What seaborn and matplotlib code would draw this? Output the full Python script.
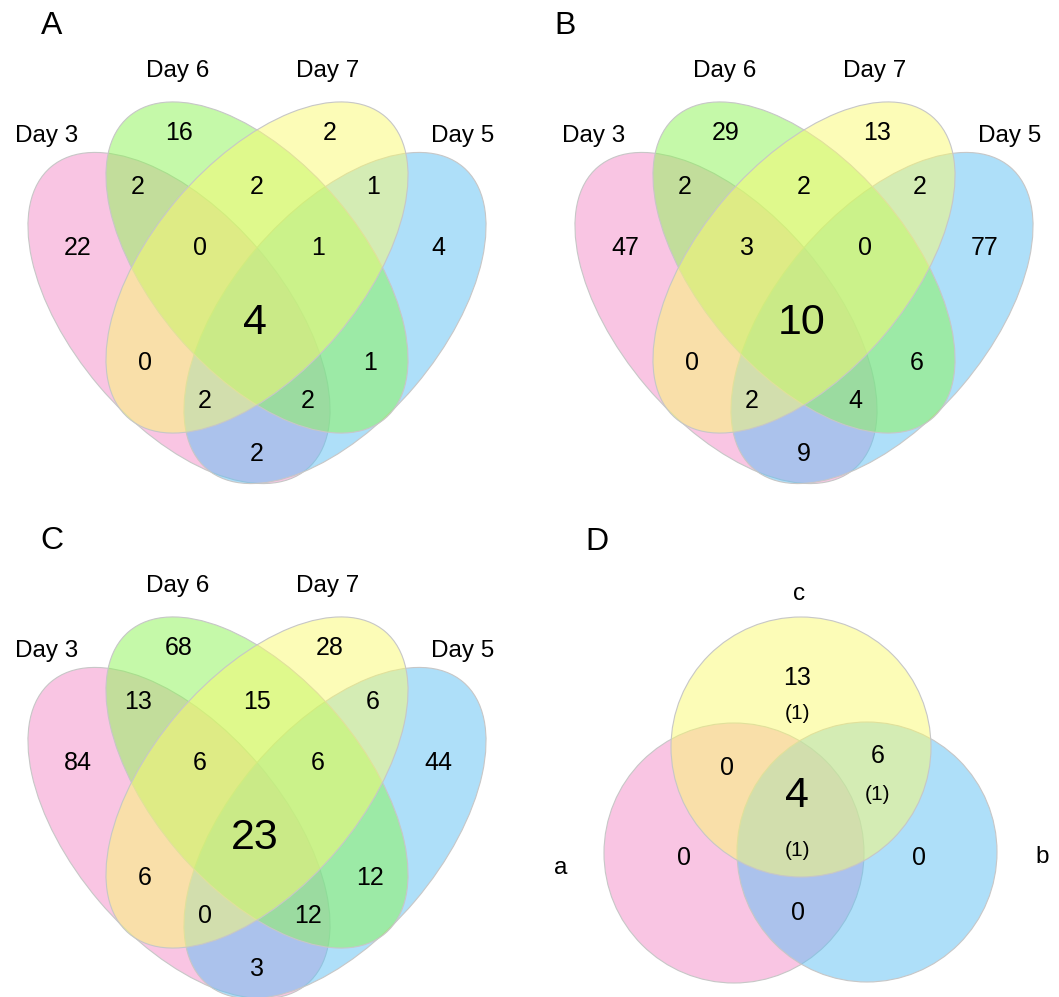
import numpy as np
import matplotlib
matplotlib.use("Agg")
import matplotlib.pyplot as plt
from matplotlib.patches import Ellipse, Circle
import seaborn as sns

# set names for the 4-set panels
set_names = ["Day 3", "Day 6", "Day 7", "Day 5"]

# region order: 3, 6, 7, 5, 3&6, 6&7, 7&5, 3&6&7, 6&7&5, all, 3&7, 6&5, 3&7&5, 3&6&5, 3&5
counts_a = [22, 16, 2, 4, 2, 2, 1, 0, 1, 4, 0, 1, 2, 2, 2]
counts_b = [47, 29, 13, 77, 2, 2, 2, 3, 0, 10, 0, 6, 2, 4, 9]
counts_c = [84, 68, 28, 44, 13, 15, 6, 6, 6, 23, 6, 12, 0, 12, 3]

# panel D (3 sets): a, b, c, a&c, b&c, a&b, all
d_names = ["a", "b", "c"]
d_counts = [0, 0, 13, 0, 6, 0, 4]
d_sub = ["", "", "(1)", "", "(1)", "", "(1)"]

panel_letters = ["A", "B", "C", "D"]

# colours (drawn with alpha 0.5) for Day 3, Day 6, Day 7, Day 5
pink = (245/255, 140/255, 200/255)
green = (140/255, 245/255, 85/255)
yellow = (250/255, 250/255, 112/255)
blue = (95/255, 192/255, 245/255)
edge = (0.78, 0.78, 0.78, 1)

sns.set_theme(style="white")
plt.rcParams["font.family"] = ["Liberation Sans", "DejaVu Sans"]
plt.rcParams["text.color"] = "black"

fig = plt.figure(figsize=(10.59, 9.97), dpi=100)
ax = fig.add_axes([0, 0, 1, 1])
ax.set_xlim(0, 1059)
ax.set_ylim(997, 0)
ax.axis("off")


def fc(c):
    return (c[0], c[1], c[2], 0.5)


# layout of the 4-ellipse diagram in panel-local pixels
ell = {
    "Day 3": ((179, 318), 49.7, pink),
    "Day 5": ((335, 318), 130.3, blue),
    "Day 6": ((257, 267.5), 49.7, green),
    "Day 7": ((257, 267.5), 130.3, yellow),
}
draw_order = ["Day 3", "Day 5", "Day 6", "Day 7"]
label_pos = {"Day 3": (47, 135), "Day 6": (178, 70), "Day 7": (328, 70), "Day 5": (463, 135)}
region_pos = [(78, 247), (179, 132), (330, 132), (438, 247),
              (138, 186), (257, 186), (373, 186),
              (200, 247), (318, 247), (255, 322),
              (145, 362), (370, 362), (205, 400), (308, 400), (257, 453)]


def quad_venn(ox, oy, counts):
    for name in draw_order:
        (cx, cy), ang, col = ell[name]
        ax.add_patch(Ellipse((ox + cx, oy + cy), 396, 210, angle=ang,
                             facecolor=fc(col), edgecolor=edge, lw=0.8))
    for name in set_names:
        x, y = label_pos[name]
        ax.text(ox + x, oy + y + 1, name, ha="center", va="center",
                fontsize=17.5, color="black")
    for i, (val, (x, y)) in enumerate(zip(counts, region_pos)):
        size = 31 if i == 9 else 18
        ax.text(ox + x, oy + y + 1, str(val), ha="center", va="center",
                fontsize=size, color="black")


quad_venn(0, 0, counts_a)
quad_venn(547, 0, counts_b)
quad_venn(0, 515, counts_c)

# panel D: three circles
circ = [((734, 853), pink), ((867, 852), blue), ((801, 747), yellow)]
for (cx, cy), col in circ:
    ax.add_patch(Circle((cx, cy), 130, facecolor=fc(col), edgecolor=edge, lw=0.8))

d_label_pos = [(561, 868), (1042, 857), (799, 594)]
for name, (x, y) in zip(d_names, d_label_pos):
    ax.text(x, y, name, ha="center", va="center", fontsize=17.5, color="black")

d_pos = [(684, 857), (919, 857), (797, 677), (727, 767), (878, 755), (798, 912), (797, 795)]
d_sub_pos = [None, None, (797, 713), None, (878, 794), None, (797, 850)]
for i, (val, (x, y)) in enumerate(zip(d_counts, d_pos)):
    size = 31 if i == 6 else 18
    ax.text(x, y + 1, str(val), ha="center", va="center", fontsize=size, color="black")
    if d_sub[i]:
        sx, sy = d_sub_pos[i]
        ax.text(sx, sy, d_sub[i], ha="center", va="center", fontsize=15, color="black")

letter_pos = [(52, 25), (565, 25), (52, 540), (597, 541)]
for letter, (x, y) in zip(panel_letters, letter_pos):
    ax.text(x, y + 1, letter, ha="center", va="center", fontsize=23, color="black")

fig.savefig("out.png", dpi=100, facecolor="white")
